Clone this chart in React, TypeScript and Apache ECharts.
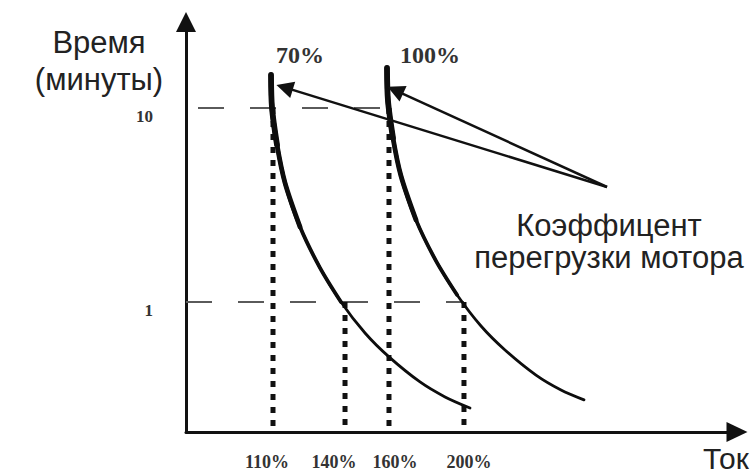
import React, { useEffect, useRef } from "react";
import * as echarts from "echarts";

// Axis extents (log time axis, schematic current axis)
const yAxisMin = 0.2137;
const yAxisMax = 27.75;
const xAxisMin = 0;
const xAxisMax = 100;

// Tick labels
const yTickValues = [1, 10];
const xTickLabels = ["110%", "140%", "160%", "200%"];
const xTickLabelPositions = [14.7, 26.86, 37.93, 51.36];

// Overload curves (x: schematic current position, y: time in minutes)
const curve70X = [15.43, 15.61, 16.52, 17.97, 20.69, 24.32, 28.13, 32.49, 36.84, 42.47, 47.01, 51.54];
const curve70Y = [14.8, 10, 6.45, 4.11, 2.44, 1.5, 1, 0.692, 0.521, 0.387, 0.324, 0.284];
const curve100X = [36.48, 36.66, 37.57, 39.02, 41.74, 45.37, 49.18, 53.54, 57.89, 63.52, 68.06, 72.23];
const curve100Y = [16.08, 10.87, 7.0, 4.46, 2.65, 1.63, 1.09, 0.752, 0.566, 0.42, 0.352, 0.313];
const curveNames = ["70%", "100%"];

// Dotted verticals (current marks) and dashed horizontals (time marks)
const dottedX = [15.79, 28.86, 36.84, 50.45];
const dottedTop = [10, 1, 10, 1];
const dashedLevels = [10, 1];
const dashedEnds = [36.84, 50.45];
const dashedOffsets = [40, 0];

// Annotation arrows
const arrowFrom = [76.41, 3.915];
const arrowToX = [17.89, 37.99];
const arrowToY = [12.77, 12.34];

const SANS = "'Liberation Sans', Arial, sans-serif";
const SERIF = "'Liberation Serif', 'Times New Roman', serif";

function pairs(xs: number[], ys: number[], from: number, to: number) {
  const out: number[][] = [];
  for (let i = from; i <= to && i < xs.length; i++) out.push([xs[i], ys[i]]);
  return out;
}

export default function App() {
  const ref = useRef<HTMLDivElement>(null);

  useEffect(() => {
    if (!ref.current) return;
    const chart = echarts.init(ref.current, undefined, { renderer: "svg" });

    const series: any[] = [];

    dashedLevels.forEach((lvl, i) => {
      series.push({
        type: "line",
        silent: true,
        symbol: "none",
        z: 1,
        data: [[xAxisMin, lvl], [dashedEnds[i], lvl]],
        lineStyle: { color: "#5a5a5a", width: 2, type: [26, 26], dashOffset: dashedOffsets[i] },
      });
    });

    dottedX.forEach((x, i) => {
      series.push({
        type: "line",
        silent: true,
        symbol: "none",
        z: 2,
        data: [[x, dottedTop[i]], [x, yAxisMin]],
        lineStyle: { color: "#111", width: 5, type: [6, 7], cap: "butt" },
      });
    });

    const curves = [
      [curve70X, curve70Y],
      [curve100X, curve100Y],
    ];
    // full curve, then thicker overlays on the upper part (tapered stroke)
    const overlays = [
      [0, 11, 2.8],
      [0, 6, 3.8],
      [0, 4, 4.8],
      [0, 2, 5.8],
    ];
    curves.forEach(([xs, ys], ci) => {
      overlays.forEach(([a, b, w]) => {
        series.push({
          type: "line",
          name: curveNames[ci],
          silent: true,
          symbol: "none",
          smooth: 0.3,
          z: 3,
          data: pairs(xs, ys, a, b),
          lineStyle: { color: "#0d0d0d", width: w, cap: "round", join: "round" },
        });
      });
    });

    series.push({
      type: "lines",
      coordinateSystem: "cartesian2d",
      silent: true,
      z: 4,
      symbol: ["none", "triangle"],
      symbolSize: [13, 17],
      lineStyle: { color: "#111", width: 2.5, opacity: 1 },
      data: arrowToX.map((x, i) => ({ coords: [arrowFrom, [x, arrowToY[i]]] })),
    });

    chart.setOption({
      animation: false,
      backgroundColor: "#ffffff",
      grid: { left: 186, top: 22, right: 15, bottom: 41, containLabel: false, outerBoundsMode: "none" },
      xAxis: {
        type: "value",
        min: xAxisMin,
        max: xAxisMax,
        axisLine: {
          show: true,
          onZero: false,
          symbol: ["none", "triangle"],
          symbolSize: [20, 21],
          lineStyle: { color: "#111", width: 3 },
        },
        axisTick: { show: false },
        splitLine: { show: false },
        axisLabel: {
          customValues: xTickLabelPositions,
          formatter: (v: number) => {
            const i = xTickLabelPositions.findIndex((p) => Math.abs(p - v) < 1e-6);
            return i >= 0 ? xTickLabels[i] : "";
          },
          margin: 21,
          fontFamily: SERIF,
          fontWeight: "bold",
          fontSize: 18,
          color: "#333",
        },
      },
      yAxis: {
        type: "log",
        logBase: 10,
        min: yAxisMin,
        max: yAxisMax,
        axisLine: {
          show: true,
          onZero: false,
          symbol: ["none", "triangle"],
          symbolSize: [20, 20],
          lineStyle: { color: "#111", width: 3 },
        },
        axisTick: { show: false },
        minorTick: { show: false },
        splitLine: { show: false },
        axisLabel: {
          customValues: yTickValues,
          formatter: (v: number) => String(Math.round(v)),
          margin: 33,
          verticalAlign: "top",
          fontFamily: SERIF,
          fontWeight: "bold",
          fontSize: 17,
          color: "#333",
        },
      },
      graphic: [
        {
          type: "text",
          x: 99,
          y: 61,
          silent: true,
          style: {
            text: "Время\n(минуты)",
            font: `31px ${SANS}`,
            fill: "#222",
            textAlign: "center",
            textVerticalAlign: "middle",
            lineHeight: 37,
          },
        },
        {
          type: "text",
          x: 726,
          y: 458,
          silent: true,
          style: { text: "Ток", font: `30px ${SANS}`, fill: "#222", textAlign: "center", textVerticalAlign: "middle" },
        },
        {
          type: "text",
          x: 609,
          y: 241,
          silent: true,
          style: {
            text: "Коэффицент\nперегрузки мотора",
            font: `31px ${SANS}`,
            fill: "#222",
            textAlign: "center",
            textVerticalAlign: "middle",
            lineHeight: 32,
          },
        },
        {
          type: "text",
          x: 300,
          y: 55,
          silent: true,
          style: { text: curveNames[0], font: `bold 24px ${SERIF}`, fill: "#333", textAlign: "center", textVerticalAlign: "middle" },
        },
        {
          type: "text",
          x: 430,
          y: 55,
          silent: true,
          style: { text: curveNames[1], font: `bold 24px ${SERIF}`, fill: "#333", textAlign: "center", textVerticalAlign: "middle" },
        },
      ],
      series,
    });

    return () => chart.dispose();
  }, []);

  return <div ref={ref} style={{ width: 752, height: 473, position: "fixed", left: 0, top: 0 }} />;
}
